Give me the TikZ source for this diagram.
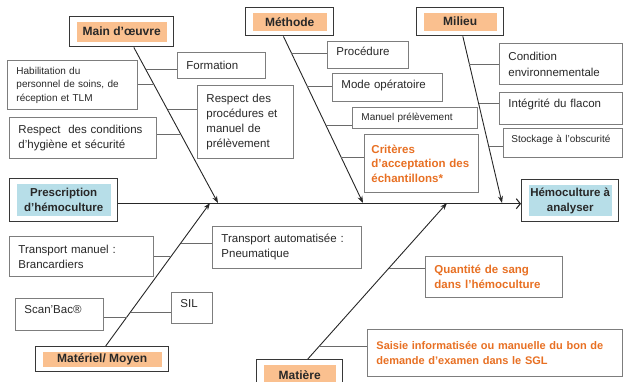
\documentclass[tikz,border=0pt]{standalone}
\usepackage{fontspec}
\setmainfont{Liberation Sans}
\usetikzlibrary{calc,arrows.meta}
\definecolor{peach}{RGB}{250,192,143}
\definecolor{aqua}{RGB}{183,222,232}
\definecolor{otext}{RGB}{232,112,35}
\definecolor{bordergray}{RGB}{125,125,125}
\definecolor{catgray}{RGB}{55,55,55}
\definecolor{txt}{RGB}{40,40,40}
\begin{document}
\begin{tikzpicture}[x=1pt,y=-1pt,
  fnorm/.style={font=\fontsize{11.5}{15}\selectfont},
  fsmall/.style={font=\fontsize{10}{13.5}\selectfont},
  forange/.style={font=\fontsize{11.5}{14.5}\selectfont\bfseries, text=otext},
  branch/.style={draw=bordergray, line width=0.9pt, fill=white, inner xsep=9pt, inner ysep=0pt,
    align=left, text=txt, anchor=north west},
  catbox/.style={draw=catgray, line width=1.4pt, fill=white, inner sep=0pt, anchor=north west,
    text=txt, font=\fontsize{12}{14}\selectfont\bfseries,
    path picture={\fill[peach] ([xshift=7pt,yshift=5pt]path picture bounding box.south west)
      rectangle ([xshift=-7pt,yshift=-5pt]path picture bounding box.north east);}},
  bluebox/.style={draw=catgray, line width=1.4pt, fill=white, inner sep=0pt, anchor=north west,
    align=center, text=txt, font=\fontsize{11.5}{15}\selectfont\bfseries,
    path picture={\fill[aqua] ([xshift=7pt,yshift=6pt]path picture bounding box.south west)
      rectangle ([xshift=-7pt,yshift=-5pt]path picture bounding box.north east);}},
  conn/.style={draw=bordergray!85!black, line width=0.9pt},
  bone/.style={draw=black!85, line width=0.9pt, -{Stealth[length=7pt,width=5pt]}},
  spine/.style={draw=black!85, line width=1.1pt, -{Straight Barb[length=4pt,width=10pt]}}
]
\useasboundingbox (0,0) rectangle (623,382);
\clip (0,0) rectangle (623,382);

% category boxes
\node[catbox, minimum width=104pt, minimum height=30pt] (mo) at (69,16) {Main d'œuvre};
\node[catbox, minimum width=88pt, minimum height=28pt] (me) at (245,7) {Méthode};
\node[catbox, minimum width=87pt, minimum height=28pt] (mi) at (416,7) {Milieu};
\node[catbox, minimum width=133pt, minimum height=25pt] (mm) at (35,346) {Matériel/ Moyen};
\node[catbox, minimum width=86pt, minimum height=30pt] (ma) at (256,359) {Matière};

% head and tail
\node[bluebox, minimum width=108pt, minimum height=43pt] (pre) at (9,178) {Prescription\\d'hémoculture};
\node[bluebox, minimum width=97pt, minimum height=42pt] (hem) at (521,179) {Hémoculture à\\analyser};

% spine
\coordinate (sp0) at ([yshift=-3.5pt]pre.east);
\draw[spine] (sp0) -- (sp0 -| hem.west);

% bone ends on the spine
\coordinate (eMO) at (218,203);
\coordinate (eME) at (363,203);
\coordinate (eMI) at (502,203);
\coordinate (eMM) at (210,203);
\coordinate (eMA) at (447,203);
% bone starts on the category boxes
\coordinate (bMO) at ($(mo.south west)!0.615!(mo.south east)$);
\coordinate (bME) at ($(me.south west)!0.43!(me.south east)$);
\coordinate (bMI) at ($(mi.south west)!0.53!(mi.south east)$);
\coordinate (bMM) at ($(mm.north west)!0.526!(mm.north east)$);
\coordinate (bMA) at ($(ma.north west)!0.593!(ma.north east)$);

\draw[bone] (bMO) -- (eMO);
\draw[bone] (bME) -- (eME);
\draw[bone] (bMI) -- (eMI);
\draw[bone] (bMM) -- (eMM);
\draw[bone] (bMA) -- (eMA);

% branch boxes: Main d'oeuvre
\node[branch, fsmall, minimum width=130pt, minimum height=49pt, text width=112pt] (hab) at (7,60)
  {Habilitation du\\personnel de soins, de\\réception et TLM};
\node[branch, fnorm, minimum width=88pt, minimum height=26pt, text width=70pt] (for) at (177,52) {Formation};
\node[branch, fnorm, minimum width=96pt, minimum height=73pt, text width=78pt] (rpp) at (197,85)
  {Respect des\\procédures et\\manuel de\\prélèvement};
\node[branch, fnorm, minimum width=147pt, minimum height=41pt, text width=129pt] (rdc) at (9,117)
  {Respect\ \ des conditions\\d'hygiène et sécurité};

% Methode
\node[branch, fnorm, text depth=7.5pt, minimum width=81pt, minimum height=27pt, text width=63pt] (pro) at (327,41) {Procédure};
\node[branch, fnorm, text depth=6.5pt, minimum width=110pt, minimum height=28pt, text width=92pt] (mod) at (332,73) {Mode opératoire};
\node[branch, fsmall, minimum width=125pt, minimum height=21pt, text width=107pt] (man) at (352,107) {Manuel prélèvement};
\node[branch, forange, inner xsep=7pt, minimum width=114pt, minimum height=58pt, text width=100pt] (cri) at (364,134)
  {Critères\\d’acceptation des\\échantillons*};

% Milieu
\node[branch, fnorm, font=\fontsize{11.5}{16}\selectfont, minimum width=123pt, minimum height=41pt, text width=105pt] (con) at (499,43)
  {Condition\\environnementale};
\node[branch, fnorm, text depth=10pt, minimum width=123pt, minimum height=32pt, text width=105pt] (int) at (499,92) {Intégrité du flacon};
\node[branch, fsmall, text depth=7.5pt, inner xsep=8pt, minimum width=119pt, minimum height=29pt, text width=103pt] (sto) at (503,128) {Stockage à l'obscurité};

% Materiel / Moyen
\node[branch, fnorm, minimum width=144pt, minimum height=40pt, text width=126pt] (tma) at (9,236)
  {Transport manuel :\\Brancardiers};
\node[branch, fnorm, minimum width=149pt, minimum height=42pt, text width=131pt] (tau) at (212,226)
  {Transport automatisée :\\Pneumatique};
\node[branch, fnorm, text depth=10pt, minimum width=88pt, minimum height=32pt, text width=70pt] (scb) at (15,298) {Scan’Bac®};
\node[branch, fnorm, text depth=9.5pt, minimum width=41pt, minimum height=31pt, text width=23pt] (sil) at (171,292) {SIL};

% Matiere
\node[branch, forange, font=\fontsize{11.5}{15}\selectfont\bfseries, minimum width=137pt, minimum height=41pt, text width=119pt] (qua) at (425,256)
  {Quantité de sang\\dans l’hémoculture};
\node[branch, forange, font=\fontsize{11}{15}\selectfont\bfseries, minimum width=255pt, minimum height=47pt, text width=237pt] (sai) at (367,329)
  {Saisie informatisée ou manuelle du bon de\\demande d’examen dans le SGL};

% connector points on the bones
\coordinate (kfor) at ($(bMO)!0.140!(eMO)$);
\coordinate (khab) at ($(bMO)!0.236!(eMO)$);
\coordinate (krpp) at ($(bMO)!0.401!(eMO)$);
\coordinate (krdc) at ($(bMO)!0.561!(eMO)$);
\coordinate (kpro) at ($(bME)!0.101!(eME)$);
\coordinate (kmod) at ($(bME)!0.298!(eME)$);
\coordinate (kman) at ($(bME)!0.536!(eME)$);
\coordinate (kcri) at ($(bME)!0.726!(eME)$);
\coordinate (kcon) at ($(bMI)!0.167!(eMI)$);
\coordinate (kint) at ($(bMI)!0.405!(eMI)$);
\coordinate (ksto) at ($(bMI)!0.661!(eMI)$);
\coordinate (ktau) at ($(bMM)!0.720!(eMM)$);
\coordinate (ktma) at ($(bMM)!0.629!(eMM)$);
\coordinate (ksil) at ($(bMM)!0.238!(eMM)$);
\coordinate (kscb) at ($(bMM)!0.203!(eMM)$);
\coordinate (kqua) at ($(bMA)!0.583!(eMA)$);
\coordinate (ksai) at ($(bMA)!0.083!(eMA)$);

\draw[conn] (kfor) -- (kfor -| for.west);
\draw[conn] (khab) -- (khab -| hab.east);
\draw[conn] (krpp) -- (krpp -| rpp.west);
\draw[conn] (krdc) -- (krdc -| rdc.east);
\draw[conn] (kpro) -- (kpro -| pro.west);
\draw[conn] (kmod) -- (kmod -| mod.west);
\draw[conn] (kman) -- (kman -| man.west);
\draw[conn] (kcri) -- (kcri -| cri.west);
\draw[conn] (kcon) -- (kcon -| con.west);
\draw[conn] (kint) -- (kint -| int.west);
\draw[conn] (ksto) -- (ksto -| sto.west);
\draw[conn] (ktau) -- (ktau -| tau.west);
\draw[conn] (ktma) -- (ktma -| tma.east);
\draw[conn] (ksil) -- (ksil -| sil.west);
\draw[conn] (kscb) -- (kscb -| scb.east);
\draw[conn] (kqua) -- (kqua -| qua.west);
\draw[conn] (ksai) -- (ksai -| sai.west);
\end{tikzpicture}
\end{document}
